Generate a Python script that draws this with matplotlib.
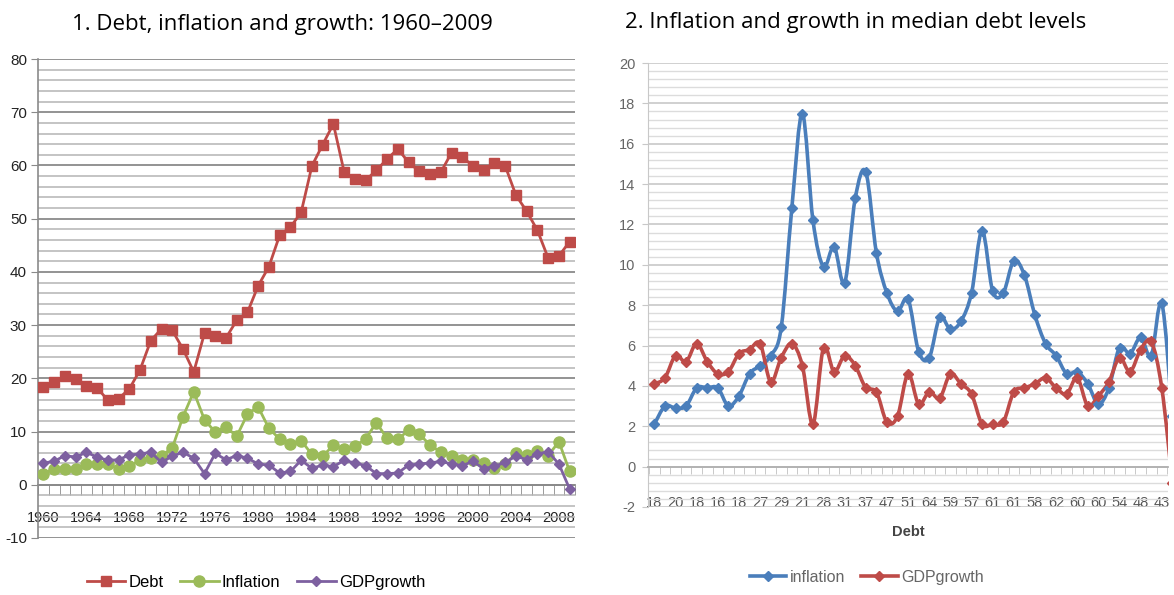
import numpy as np
import matplotlib
matplotlib.use("Agg")
import matplotlib.pyplot as plt
from matplotlib.path import Path
from matplotlib.patches import PathPatch
from matplotlib.ticker import MultipleLocator, FixedLocator

# ---------------- data ----------------
years = list(range(1960, 2010))
debt = [18.3, 19.4, 20.4, 19.8, 18.5, 18.2, 15.9, 16.2, 18.0, 21.6,
        27.1, 29.3, 29.0, 25.5, 21.2, 28.5, 28.0, 27.6, 30.9, 32.4,
        37.4, 41.0, 46.9, 48.4, 51.2, 59.9, 63.9, 67.8, 58.8, 57.5,
        57.2, 59.1, 61.2, 63.1, 60.6, 58.9, 58.4, 58.7, 62.4, 61.6,
        59.9, 59.2, 60.4, 59.9, 54.4, 51.4, 47.8, 42.6, 43.0, 45.7]
inflation = [2.1, 3.0, 2.9, 3.0, 3.9, 3.9, 3.9, 3.0, 3.5, 4.6,
             5.0, 5.5, 6.9, 12.8, 17.5, 12.2, 9.9, 10.9, 9.1, 13.3,
             14.6, 10.6, 8.6, 7.7, 8.3, 5.7, 5.4, 7.4, 6.8, 7.2,
             8.6, 11.7, 8.7, 8.6, 10.2, 9.5, 7.5, 6.1, 5.5, 4.6,
             4.7, 4.1, 3.1, 3.9, 5.9, 5.6, 6.4, 5.5, 8.1, 2.5]
gdp_growth = [4.1, 4.4, 5.5, 5.2, 6.1, 5.2, 4.6, 4.7, 5.6, 5.8,
              6.1, 4.2, 5.4, 6.1, 5.0, 2.1, 5.9, 4.7, 5.5, 5.0,
              3.9, 3.7, 2.2, 2.5, 4.6, 3.1, 3.7, 3.4, 4.6, 4.1,
              3.6, 2.1, 2.1, 2.2, 3.7, 3.9, 4.1, 4.4, 3.9, 3.6,
              4.4, 3.0, 3.5, 4.2, 5.4, 4.7, 5.8, 6.2, 3.9, -0.8]
left_xtick_years = list(range(1960, 2010, 4))
right_debt_labels = ["18", "20", "18", "16", "18", "27", "29", "21", "28", "31",
                     "37", "47", "51", "64", "59", "57", "61", "61", "58", "62",
                     "60", "60", "54", "48", "43"]

# ---------------- style ----------------
RED = "#be4b48"
GREEN = "#9bbb59"
PURPLE = "#7d60a0"
BLUE = "#4a7ebb"
TICKF = ["Liberation Sans", "DejaVu Sans"]
TITLE_FONT = ["Open Sans", "DejaVu Sans"]
plt.rcParams["axes.unicode_minus"] = False

fig = plt.figure(figsize=(11.74, 5.95), dpi=100)
fig.patch.set_facecolor("white")

# ================= LEFT CHART =================
ax1 = fig.add_axes([0.0324, 0.0958, 0.4574, 0.805])
ax1.set_xlim(1959.5, 2009.5)
ax1.set_ylim(-10, 80)
ax1.yaxis.set_major_locator(MultipleLocator(10))
ax1.yaxis.set_minor_locator(MultipleLocator(2))
ax1.grid(axis="y", which="major", color="#8a8a8a", lw=1.3, zorder=0)
ax1.grid(axis="y", which="minor", color="#b4b4b4", lw=1.1, zorder=0)
ax1.set_axisbelow(True)
for s in ["top", "right"]:
    ax1.spines[s].set_visible(False)
ax1.spines["left"].set_color("#8a8a8a")
ax1.spines["left"].set_linewidth(1.2)
ax1.spines["bottom"].set_position(("data", 0))
ax1.spines["bottom"].set_color("#8a8a8a")
ax1.spines["bottom"].set_linewidth(1.3)

ax1.plot(years, debt, color=RED, lw=2, marker="s", ms=7, mec=RED, mfc=RED,
         label="Debt", zorder=3)
ax1.plot(years, inflation, color=GREEN, lw=2, marker="o", ms=8, mec=GREEN, mfc=GREEN,
         label="Inflation", zorder=3)
ax1.plot(years, gdp_growth, color=PURPLE, lw=2, marker="D", ms=5, mec=PURPLE, mfc=PURPLE,
         label="GDPgrowth", zorder=3, clip_on=False)

ax1.xaxis.set_major_locator(FixedLocator(left_xtick_years))
ax1.xaxis.set_minor_locator(FixedLocator(np.arange(1959.5, 2010, 1)))
ax1.tick_params(axis="x", which="major", length=0, pad=19)
ax1.tick_params(axis="x", which="minor", length=7, direction="out", color="#8a8a8a")
ax1.set_xticklabels([str(y) for y in left_xtick_years], fontfamily=TICKF, fontsize=10.5,
                    color="#222222")
for lbl in ax1.get_xticklabels():
    lbl.set_bbox(dict(facecolor="white", edgecolor="none", pad=0.5))
ax1.tick_params(axis="y", which="major", length=5, color="#8a8a8a", labelsize=11, pad=3,
                labelcolor="#222222")
ax1.tick_params(axis="y", which="minor", length=0)
for lbl in ax1.get_yticklabels():
    lbl.set_fontfamily(TICKF)

ax1.set_title("1. Debt, inflation and growth: 1960\u20132009", fontsize=16,
              fontfamily=TITLE_FONT, pad=21, x=0.456)
ax1.legend(loc="center", bbox_to_anchor=(0.406, -0.092), ncol=3,
           frameon=False, prop={"family": TICKF, "size": 12},
           handlelength=2.3, columnspacing=1.0, handletextpad=0.2)

# ================= RIGHT CHART =================
ax2 = fig.add_axes([0.552, 0.148, 0.443, 0.746])
idx = np.arange(len(years))
ax2.set_xlim(-0.6, 48.6)
ax2.set_ylim(-2, 20)
ax2.yaxis.set_major_locator(MultipleLocator(2))
ax2.yaxis.set_minor_locator(MultipleLocator(0.4))
ax2.grid(axis="y", which="major", color="#c8c8c8", lw=1.2, zorder=0)
ax2.grid(axis="y", which="minor", color="#dcdcdc", lw=1.0, zorder=0)
ax2.set_axisbelow(True)
for s in ["top", "right"]:
    ax2.spines[s].set_visible(False)
ax2.spines["left"].set_color("#c8c8c8")
ax2.spines["bottom"].set_position(("data", 0))
ax2.spines["bottom"].set_color("#b0b0b0")
ax2.spines["bottom"].set_linewidth(1.3)


def smooth_path(xs, ys):
    xs = np.asarray(xs, float)
    ys = np.asarray(ys, float)
    n = len(xs)
    verts = [(xs[0], ys[0])]
    codes = [Path.MOVETO]
    for i in range(n - 1):
        i0 = max(i - 1, 0)
        i3 = min(i + 2, n - 1)
        c1 = (xs[i] + (xs[i + 1] - xs[i0]) / 6, ys[i] + (ys[i + 1] - ys[i0]) / 6)
        c2 = (xs[i + 1] - (xs[i3] - xs[i]) / 6, ys[i + 1] - (ys[i3] - ys[i]) / 6)
        verts += [c1, c2, (xs[i + 1], ys[i + 1])]
        codes += [Path.CURVE4] * 3
    return Path(verts, codes)


for vals, col, name in [(inflation, BLUE, "inflation"), (gdp_growth, RED, "GDPgrowth")]:
    patch = PathPatch(smooth_path(idx, vals), facecolor="none", edgecolor=col,
                      lw=2.6, zorder=3, capstyle="round", joinstyle="round")
    ax2.add_patch(patch)
    ax2.plot(idx, vals, ls="none", marker="D", ms=5, color=col, zorder=4)
    ax2.plot([], [], color=col, lw=2.6, marker="D", ms=5, label=name)

ax2.xaxis.set_major_locator(FixedLocator(idx[::2]))
ax2.xaxis.set_minor_locator(FixedLocator(np.arange(-0.5, 49, 1)))
ax2.set_xticklabels(right_debt_labels)
ax2.tick_params(axis="x", which="major", length=0, pad=21, labelsize=10.5, labelcolor="#555555")
ax2.tick_params(axis="x", which="minor", length=5, direction="out", color="#c0c0c0")
for lbl in ax2.get_xticklabels():
    lbl.set_fontfamily(TICKF)
ax2.tick_params(axis="y", which="major", length=4, color="#c8c8c8", labelsize=10.5,
                labelcolor="#666666", pad=5)
ax2.tick_params(axis="y", which="minor", length=0)
for lbl in ax2.get_yticklabels():
    lbl.set_fontfamily(TICKF)
ax2.set_xlabel("Debt", fontsize=10.5, fontweight="bold", color="#444444",
               fontfamily=TICKF, labelpad=11)

ax2.set_title("2. Inflation and growth in median debt levels", fontsize=16,
              fontfamily=TITLE_FONT, pad=25, x=0.40)
ax2.legend(loc="center", bbox_to_anchor=(0.42, -0.158), ncol=2, frameon=False,
           prop={"family": TICKF, "size": 11.5}, labelcolor="#666666",
           handlelength=2.3, columnspacing=1.0, handletextpad=0.2)

fig.savefig("out.png", dpi=100, facecolor="white")
